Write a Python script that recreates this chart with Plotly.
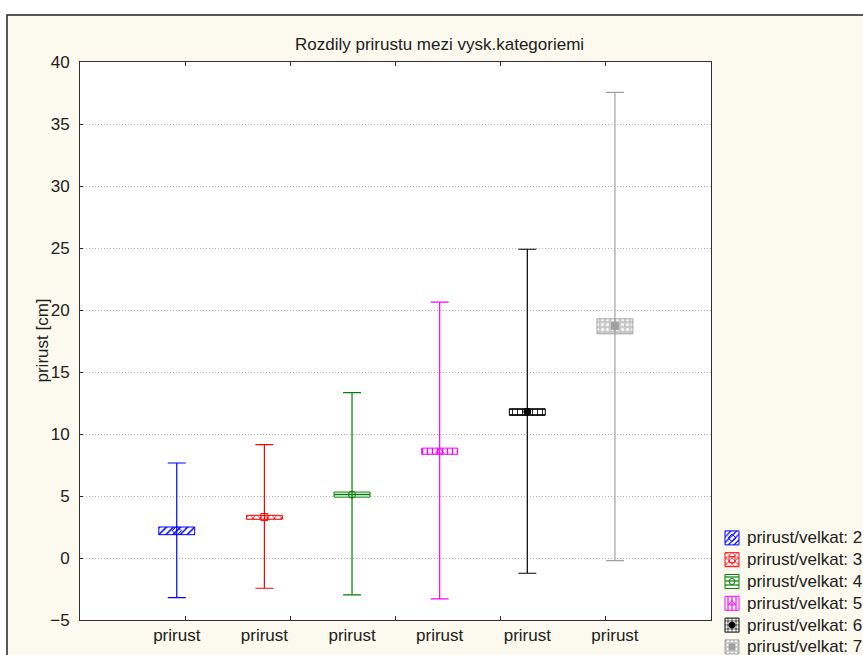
import plotly.graph_objects as go

# Summary statistics per height category (prirust, cm)
groups = ["prirust/velkat: 2", "prirust/velkat: 3", "prirust/velkat: 4",
          "prirust/velkat: 5", "prirust/velkat: 6", "prirust/velkat: 7"]
positions = [1, 2, 3, 4, 5, 6]
category_labels = ["prirust"] * 6
means = [2.2, 3.3, 5.1, 8.6, 11.8, 18.7]
box_low = [1.88, 3.12, 4.91, 8.36, 11.50, 18.08]
box_high = [2.50, 3.44, 5.32, 8.86, 12.04, 19.29]
whisker_low = [-3.19, -2.44, -2.98, -3.30, -1.23, -0.21]
whisker_high = [7.66, 9.14, 13.34, 20.64, 24.90, 37.55]
y_ticks = [-5, 0, 5, 10, 15, 20, 25, 30, 35, 40]

colors = ["#0000FF", "#FF0000", "#008000", "#FF00FF", "#000000", "#A0A0A0"]
patterns = ["/", "x", "-", "|", "+", "."]
pattern_bg = ["white", "white", "white", "white", "white", "#C8C8C8"]
pattern_fg = ["#0000FF", "#FF0000", "#008000", "#FF00FF", "#000000", "white"]
mean_symbols = ["diamond-open", "square-open", "circle-open",
                "triangle-up-open", "circle", "square"]

FONT = "Liberation Sans, Arial, sans-serif"
TEXT = "#202020"
W, H = 863, 655
ML, MT = 80, 62                 # left / top margin in px
PLOT_R, PLOT_B = 711, 620       # right / bottom edge of the main plot in px
AW, AH = W - ML, H - MT         # size of the axes area


def fx(px):
    return (px - ML) / AW


def fy(py):
    return (H - py) / AH


X_RANGE = [-0.104, 7.096]
boundaries = [X_RANGE[0] + 1.2 * k for k in range(1, 6)]

# legend panel geometry (rows on their own axis)
LEG_TOP, LEG_ROW = 527, 21.8
leg_rows = list(range(len(groups)))
ICON_X, ICON_W = 0.0966, 0.0966
ICON_H = 14 / LEG_ROW

fig = go.Figure()

# whiskers (min-max) drawn first so the boxes sit on top
for i in range(6):
    fig.add_trace(go.Scatter(
        x=[positions[i]], y=[means[i]], mode="markers",
        marker=dict(size=1, color=colors[i], opacity=0),
        error_y=dict(type="data", symmetric=False,
                     array=[whisker_high[i] - means[i]],
                     arrayminus=[means[i] - whisker_low[i]],
                     color=colors[i], thickness=1.2, width=9),
        showlegend=False, hoverinfo="skip"))

# hatched boxes (mean +/- standard error)
for i in range(6):
    fig.add_trace(go.Bar(
        x=[positions[i]], y=[box_high[i] - box_low[i]], base=[box_low[i]],
        width=0.41, name=groups[i], showlegend=False,
        marker=dict(color=pattern_bg[i],
                    line=dict(color=colors[i], width=1),
                    pattern=dict(shape=patterns[i], fgcolor=pattern_fg[i],
                                 bgcolor=pattern_bg[i], size=5, solidity=0.3,
                                 fillmode="replace"))))

# mean markers
for i in range(6):
    fig.add_trace(go.Scatter(
        x=[positions[i]], y=[means[i]], mode="markers",
        marker=dict(symbol=mean_symbols[i], size=7, color=colors[i],
                    line=dict(color=colors[i], width=1)),
        showlegend=False, hoverinfo="skip"))

# boundary tick marks on an overlaid axis
fig.add_trace(go.Scatter(x=[None], y=[None], xaxis="x2", showlegend=False,
                         hoverinfo="skip"))

# legend: patterned swatches with the mean symbol, one row per group
for i in leg_rows:
    fig.add_trace(go.Bar(
        x=[ICON_X], y=[ICON_H], base=[i - ICON_H / 2], width=ICON_W,
        xaxis="x3", yaxis="y3", showlegend=False, hoverinfo="skip",
        marker=dict(color=pattern_bg[i],
                    line=dict(color=colors[i], width=1),
                    pattern=dict(shape=patterns[i], fgcolor=pattern_fg[i],
                                 bgcolor=pattern_bg[i], size=4, solidity=0.3,
                                 fillmode="replace"))))
fig.add_trace(go.Scatter(
    x=[ICON_X] * len(leg_rows), y=leg_rows, mode="markers",
    xaxis="x3", yaxis="y3", showlegend=False, hoverinfo="skip",
    marker=dict(symbol=mean_symbols, size=6, color=colors,
                line=dict(color=colors, width=1))))

leg_annotations = [
    dict(text=groups[i], xref="x3", yref="y3", x=0.186, y=i,
         xanchor="left", yanchor="middle", showarrow=False,
         font=dict(size=17, color=TEXT))
    for i in leg_rows
]

fig.update_layout(
    width=W, height=H,
    margin=dict(l=ML, r=0, t=MT, b=0, autoexpand=False),
    paper_bgcolor="white",
    plot_bgcolor="rgba(0,0,0,0)",
    barmode="overlay",
    font=dict(family=FONT, size=17, color=TEXT),
    showlegend=False,
    xaxis=dict(domain=[0, fx(PLOT_R)], range=X_RANGE, tickvals=positions,
               ticktext=category_labels, ticks="", showgrid=False,
               zeroline=False, showline=True, linecolor="#303030",
               linewidth=1, mirror=True, tickfont=dict(size=17)),
    xaxis2=dict(range=X_RANGE, overlaying="x", anchor="y", side="bottom",
                tickvals=boundaries, ticks="inside", ticklen=4,
                tickcolor="#303030", showticklabels=False, showgrid=False,
                zeroline=False, showline=False, mirror="ticks"),
    yaxis=dict(domain=[fy(PLOT_B), 1], range=[-5, 40], tickvals=y_ticks,
               ticks="inside", ticklen=3, tickcolor="#303030",
               showgrid=True, gridcolor="#B4B4B4", griddash="1px,2px",
               gridwidth=1, zeroline=False, showline=True,
               linecolor="#303030", linewidth=1, mirror=True,
               ticklabelstandoff=6, tickfont=dict(size=17)),
    xaxis3=dict(domain=[fx(718), 1], range=[0, 1], anchor="y3",
                visible=False, fixedrange=True),
    yaxis3=dict(domain=[0, fy(LEG_TOP)], anchor="x3",
                range=[(H - LEG_TOP) / LEG_ROW - 0.5, -0.5],
                visible=False, fixedrange=True),
    shapes=[
        # framed cream panel behind the chart
        dict(type="rect", xref="paper", yref="paper",
             x0=fx(7), x1=1.2, y0=-0.2, y1=fy(15), layer="below",
             fillcolor="#FCFAEE", line=dict(color="#202020", width=1.5)),
        dict(type="rect", xref="x domain", yref="y domain",
             x0=0, x1=1, y0=0, y1=1, layer="below",
             fillcolor="white", line=dict(width=0)),
    ],
    annotations=[
        dict(text="Rozdily prirustu mezi vysk.kategoriemi", xref="paper",
             yref="paper", x=fx(439), y=fy(33), showarrow=False,
             font=dict(size=17, color=TEXT)),
        dict(text="prirust [cm]", xref="paper", yref="paper", x=fx(30),
             y=fy(341), textangle=-90, showarrow=False,
             font=dict(size=17, color=TEXT)),
    ] + leg_annotations,
)

fig.write_html("out.html")
